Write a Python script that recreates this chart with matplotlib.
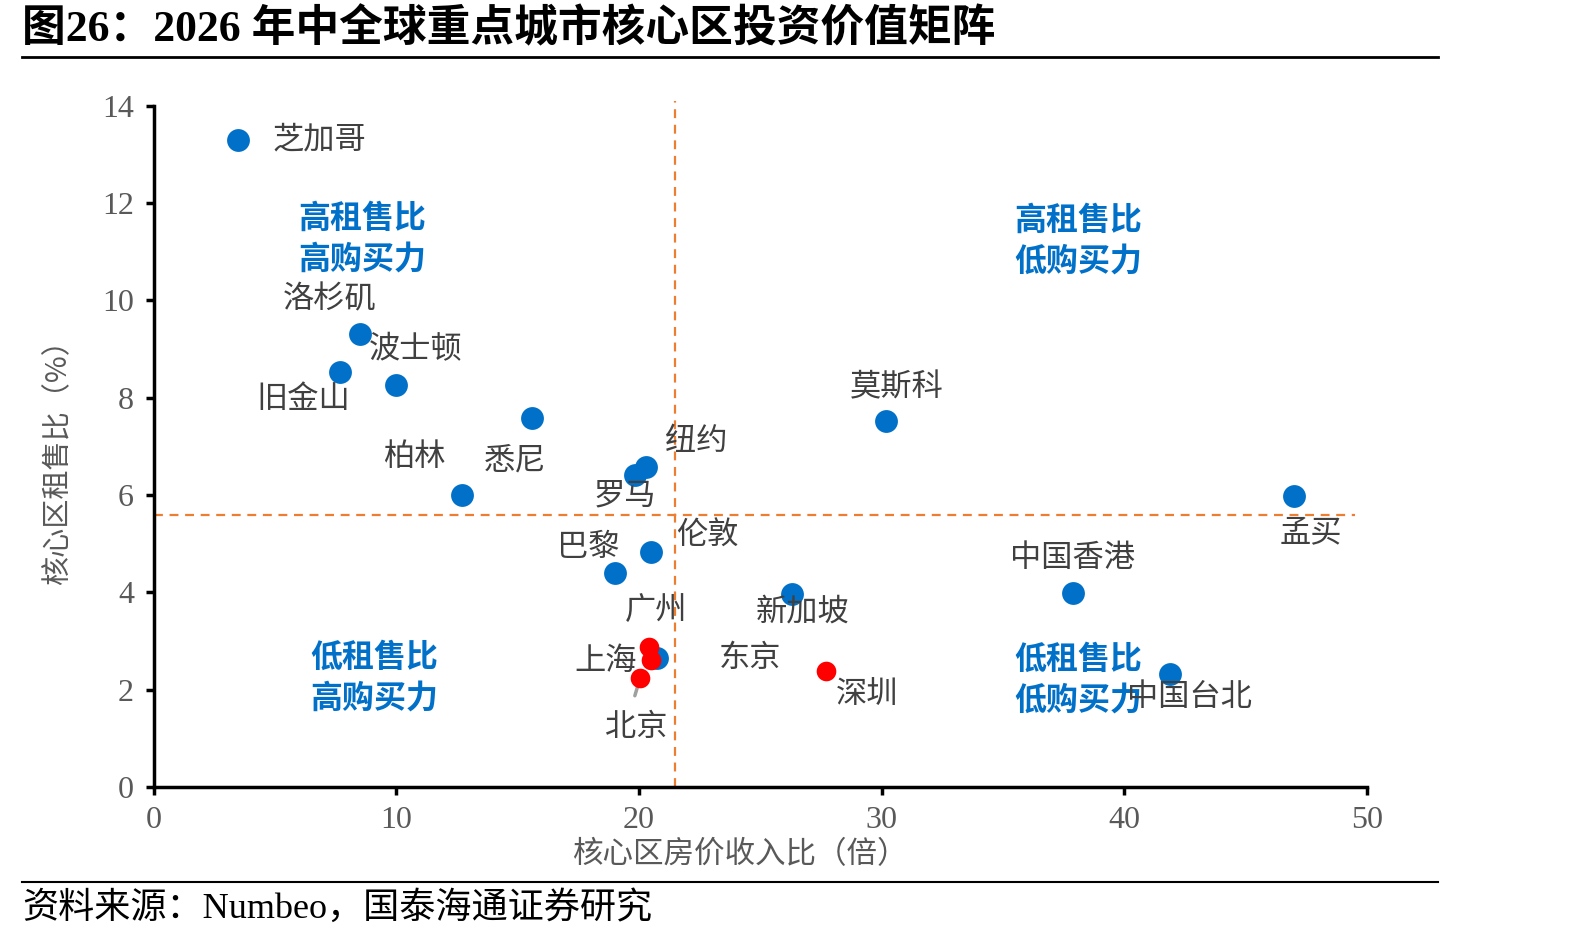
import matplotlib.pyplot as plt

plt.rcParams['font.family'] = ['Noto Sans CJK SC', 'DejaVu Sans']

# 核心区房价收入比（倍） / 核心区租售比（%）
cities_blue = ['芝加哥', '洛杉矶', '旧金山', '波士顿', '悉尼', '柏林', '纽约', '罗马',
               '伦敦', '巴黎', '新加坡', '东京', '莫斯科', '孟买', '中国香港', '中国台北']
price_income_blue = [3.5, 8.5, 7.7, 10.0, 15.6, 12.7, 20.3, 19.85,
                     20.5, 19.0, 26.3, 20.75, 30.2, 47.0, 37.9, 41.9]
rent_yield_blue = [13.3, 9.3, 8.52, 8.27, 7.58, 6.0, 6.58, 6.41,
                   4.83, 4.39, 3.97, 2.65, 7.52, 5.98, 3.99, 2.32]

cities_red = ['广州', '上海', '北京', '深圳']
price_income_red = [20.4, 20.5, 20.05, 27.7]
rent_yield_red = [2.88, 2.61, 2.24, 2.38]

# 均值参考线
avg_price_income = 21.5
avg_rent_yield = 5.58

# label offsets in pixels (dx, dy), relative to the point
label_offsets = {
    '芝加哥': (34, 0, 'left'), '洛杉矶': (-30, 35, 'center'), '旧金山': (-37, -27, 'center'),
    '波士顿': (19, 35, 'center'), '悉尼': (-17, -42, 'center'), '柏林': (-47, 38, 'center'),
    '纽约': (50, 26, 'center'), '罗马': (-10, -20, 'center'), '伦敦': (56, 16, 'center'),
    '巴黎': (-26, 26, 'center'), '新加坡': (11, -18, 'center'), '东京': (93, 0, 'center'),
    '莫斯科': (10, 34, 'center'), '孟买': (17, -36, 'center'), '中国香港': (-1, 35, 'center'),
    '中国台北': (19, -23, 'center'), '广州': (7, 37, 'center'), '上海': (-45, -1, 'center'),
    '北京': (-4, -49, 'center'), '深圳': (41, -23, 'center'),
}

quadrants = [
    (8.6, 11.26, '高租售比\n高购买力'),
    (38.1, 11.21, '高租售比\n低购买力'),
    (9.1, 2.24, '低租售比\n高购买力'),
    (38.1, 2.2, '低租售比\n低购买力'),
]

blue = '#0070C8'
red = '#FF0000'
orange = '#ED7D31'
gray = '#595959'
dark = '#404040'
num_font = ['Liberation Serif', 'Noto Sans CJK SC']

fig = plt.figure(figsize=(15.94, 9.42), dpi=100)
ax = fig.add_axes([0.0963, 0.1646, 0.7613, 0.7231])

ax.plot([avg_price_income, avg_price_income], [0, 14.1], ls=(0, (4, 3)), color=orange, lw=1.6, zorder=1, clip_on=False)
ax.plot([0, 49.5], [avg_rent_yield, avg_rent_yield], ls=(0, (4, 3)), color=orange, lw=1.6, zorder=1, clip_on=False)

ax.scatter(price_income_blue, rent_yield_blue, s=270, color=blue, zorder=3, clip_on=False, linewidths=0)
ax.scatter(price_income_red, rent_yield_red, s=200, color=red, zorder=4, clip_on=False, linewidths=0)

# 北京 leader line
bj = cities_red.index('北京')
ax.annotate('', xy=(price_income_red[bj], rent_yield_red[bj]),
            xytext=(price_income_red[bj] - 0.25, rent_yield_red[bj] - 0.42),
            arrowprops=dict(arrowstyle='-', color='#A0A0A0', lw=2.5), zorder=2)

for names, xs, ys in [(cities_blue, price_income_blue, rent_yield_blue),
                      (cities_red, price_income_red, rent_yield_red)]:
    for name, x, y in zip(names, xs, ys):
        dx, dy, ha = label_offsets[name]
        ax.annotate(name, (x, y), xytext=(dx, dy), textcoords='offset pixels',
                    ha=ha, va='center', fontsize=22.5, color=dark, zorder=5)

for qx, qy, txt in quadrants:
    ax.text(qx, qy, txt, ha='center', va='center', fontsize=23, fontweight='bold',
            color=blue, linespacing=1.35, zorder=2)

ax.set_xlim(0, 50)
ax.set_ylim(0, 14)
ax.set_xticks(range(0, 51, 10))
ax.set_yticks(range(0, 15, 2))
for side in ['top', 'right']:
    ax.spines[side].set_visible(False)
for side in ['left', 'bottom']:
    ax.spines[side].set_linewidth(2.5)
ax.tick_params(direction='out', length=6, width=2.5, colors='black', labelcolor=gray, pad=8)
for lab in ax.get_xticklabels() + ax.get_yticklabels():
    lab.set_family(num_font)
    lab.set_fontsize(23)

ax.set_xlabel('核心区房价收入比（倍）', fontsize=22, color=gray)
ax.xaxis.set_label_coords(0.483, -0.076)
ax.set_ylabel('核心区租售比（%）', fontsize=21, color=gray)
ax.yaxis.set_label_coords(-0.066, 0.487)

fig.text(0.014, 0.969, '图26：2026 年中全球重点城市核心区投资价值矩阵', family=num_font,
         fontsize=31.5, fontweight='bold', va='center', ha='left')
fig.add_artist(plt.Line2D([0.014, 0.902], [0.940, 0.940], color='black', lw=2))
fig.add_artist(plt.Line2D([0.014, 0.902], [0.064, 0.064], color='black', lw=1.5))
fig.text(0.014, 0.036, '资料来源：Numbeo，国泰海通证券研究', family=num_font,
         fontsize=26, va='center', ha='left')

fig.savefig('out.png', dpi=100)
